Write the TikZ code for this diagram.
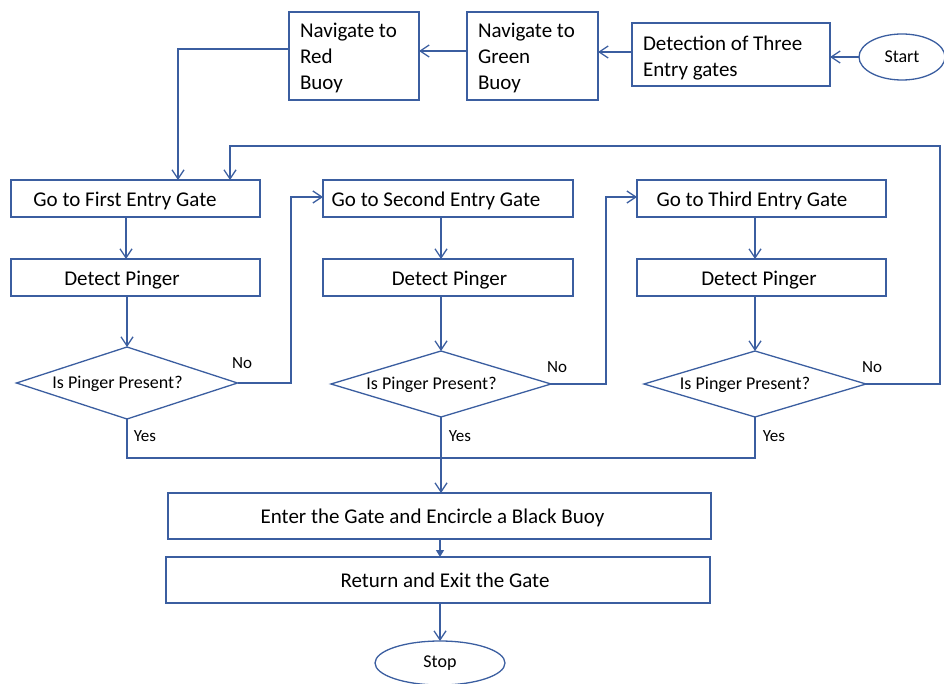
\documentclass[tikz,border=0pt]{standalone}
\usepackage{fontspec}
\setmainfont{Carlito}
\usetikzlibrary{arrows.meta,shapes.geometric}
\definecolor{flow}{RGB}{59,94,160}

\begin{document}
\begin{tikzpicture}[x=1pt,y=-1pt,
  every node/.style={inner sep=0pt,outer sep=0pt},
  box/.style={draw=flow,line width=1.3pt,rectangle},
  txt/.style={font=\fontsize{21}{26}\selectfont,text=black},
  toptxt/.style={font=\fontsize{21}{26}\selectfont,align=left,anchor=west},
  small/.style={font=\fontsize{18}{22}\selectfont},
  decision/.style={draw=flow,line width=1.3pt,diamond,aspect=3.2},
  term/.style={draw=flow,line width=1.3pt,ellipse,font=\fontsize{18}{22}\selectfont},
  lbl/.style={font=\fontsize{17}{20}\selectfont},
  line/.style={draw=flow,line width=1.3pt},
  arr/.style={line,-{Straight Barb[length=9pt,width=12pt,line width=1.3pt]}},
  farr/.style={line,-{Triangle[length=7pt,width=8pt]}}]
\useasboundingbox (0,0) rectangle (944,684);

% top row
\node[term,minimum width=86pt,minimum height=46pt] (start) at (902,57) {Start};
\node[box,minimum width=198pt,minimum height=63pt] (detect) at (731,54.5) {};
\node[toptxt] (detectT) at (643,58) {Detection of Three\\Entry gates};
\node[box,minimum width=131pt,minimum height=88pt] (green) at (532.5,56) {};
\node[toptxt] (greenT) at (478,58) {Navigate to\\Green\\Buoy};
\node[box,minimum width=130pt,minimum height=88pt] (red) at (354,56) {};
\node[toptxt] (redT) at (300,58) {Navigate to\\Red\\Buoy};

% gate boxes
\node[box,minimum width=249pt,minimum height=37pt] (first) at (135.5,198.5) {};
\node[txt] (firstT) at (125,201) {Go to First Entry Gate};
\node[box,minimum width=250pt,minimum height=37pt] (second) at (448,198.5) {};
\node[txt] (secondT) at (436,201) {Go to Second Entry Gate};
\node[box,minimum width=249pt,minimum height=37pt] (third) at (761.5,198.5) {};
\node[txt] (thirdT) at (752,201) {Go to Third Entry Gate};

% pinger detection
\node[box,minimum width=249pt,minimum height=37pt] (det1) at (135.5,277.5) {};
\node[txt] (det1T) at (122,280) {Detect Pinger};
\node[box,minimum width=250pt,minimum height=37pt] (det2) at (448,277.5) {};
\node[txt] (det2T) at (449.5,280) {Detect Pinger};
\node[box,minimum width=249pt,minimum height=37pt] (det3) at (761.5,277.5) {};
\node[txt] (det3T) at (759,280) {Detect Pinger};

% decisions
\node[decision,minimum width=221pt,minimum height=72pt] (dia1) at (127,383) {};
\node[small] (dia1T) at (117.5,384) {Is Pinger Present?};
\node[decision,minimum width=220pt,minimum height=66pt] (dia2) at (441,384) {};
\node[small] (dia2T) at (431.5,385) {Is Pinger Present?};
\node[decision,minimum width=222pt,minimum height=66pt] (dia3) at (755,384) {};
\node[small] (dia3T) at (745,385) {Is Pinger Present?};

% final steps
\node[box,minimum width=543pt,minimum height=46pt] (enter) at (439.5,516) {};
\node[txt] (enterT) at (432.5,518) {Enter the Gate and Encircle a Black Buoy};
\node[box,minimum width=544pt,minimum height=46pt] (ret) at (438,580) {};
\node[txt] (retT) at (445,580) {Return and Exit the Gate};
\node[term,minimum width=130pt,minimum height=44pt] (stop) at (440,663) {Stop};

% branch labels
\node[lbl] (no1) at (242,363) {No};
\node[lbl] (no2) at (557,367) {No};
\node[lbl] (no3) at (872,367) {No};
\node[lbl] (yes1) at (145,436) {Yes};
\node[lbl] (yes2) at (460,436) {Yes};
\node[lbl] (yes3) at (774,436) {Yes};

% helper points
\coordinate (loopR) at (940,146);
\coordinate (join) at (441,458);

% top row connectors
\draw[arr] (start.west) -- (start.west -| detect.east);
\draw[arr] ([yshift=2.5pt]detect.west) -- ([yshift=2.5pt]detect.west -| green.east);
\draw[arr] ([yshift=5pt]green.west) -- ([yshift=5pt]green.west -| red.east);
\draw[arr] ([yshift=7pt]red.west) -| ([xshift=42.5pt]first.north);

% down each column
\draw[arr] (first.south -| det1T) ++(4,0) coordinate (c1) -- (c1 |- det1.north);
\draw[arr] (dia1.north |- det1.south) -- (dia1.north);
\draw[arr] (dia2.north |- second.south) -- (dia2.north |- det2.north);
\draw[arr] (dia2.north |- det2.south) -- (dia2.north);
\draw[arr] (dia3.north |- third.south) -- (dia3.north |- det3.north);
\draw[arr] (dia3.north |- det3.south) -- (dia3.north);

% "No" branches
\draw[arr] (dia1.east) -- ++(53.5,0) |- ([yshift=1.5pt]second.west);
\draw[arr] (dia2.east) -- ++(55,0) |- ([yshift=1.5pt]third.west);
\draw[arr] (dia3.east) -| (loopR) -| ([xshift=94.5pt]first.north);

% "Yes" branches
\draw[line] (dia1.south) |- (join);
\draw[line] (dia3.south) |- (join);
\draw[arr] (dia2.south) -- (dia2.south |- enter.north);

% final steps
\draw[farr] (enter.south -| stop.north) -- (stop.north |- ret.north);
\draw[arr] (stop.north |- ret.south) -- (stop.north);
\end{tikzpicture}
\end{document}
